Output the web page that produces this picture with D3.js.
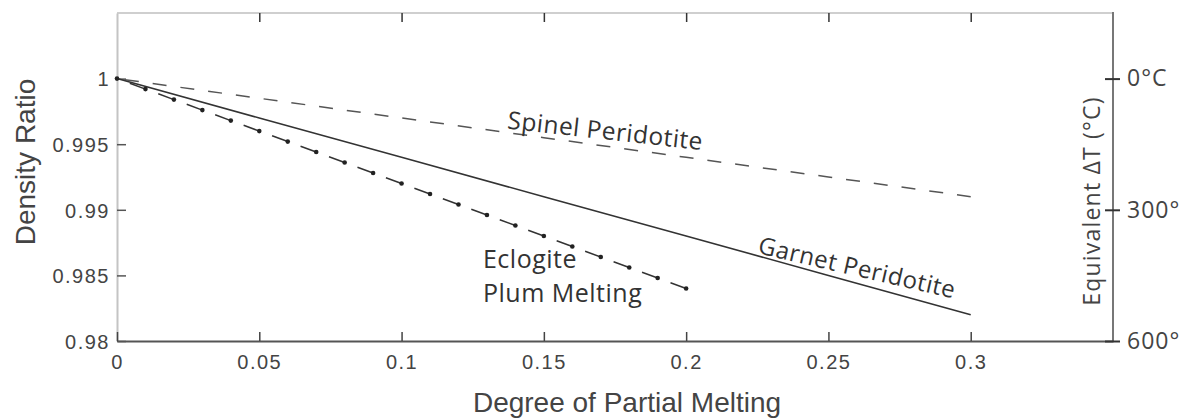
<!DOCTYPE html>
<html>
<head>
<meta charset="utf-8">
<script src="https://cdn.jsdelivr.net/npm/d3@7"></script>
<style>
  body { margin: 0; background: #fff; }
  svg { display: block; }
  .tick text { fill: #444; }
</style>
</head>
<body>
<script>
// data
var meltX = [0, 0.05, 0.1, 0.15, 0.2, 0.25, 0.3];
var garnet = [1, 0.997, 0.994, 0.991, 0.988, 0.985, 0.982];
var spinel = [1, 0.9985, 0.997, 0.9955, 0.994, 0.9925, 0.991];

var eclogiteX = [0, 0.01, 0.02, 0.03, 0.04, 0.05, 0.06, 0.07, 0.08, 0.09, 0.1,
                 0.11, 0.12, 0.13, 0.14, 0.15, 0.16, 0.17, 0.18, 0.19, 0.2];
var eclogite = [1, 0.9992, 0.9984, 0.9976, 0.9968, 0.996, 0.9952, 0.9944, 0.9936, 0.9928, 0.992,
                0.9912, 0.9904, 0.9896, 0.9888, 0.988, 0.9872, 0.9864, 0.9856, 0.9848, 0.984];

var xTicks = [0, 0.05, 0.1, 0.15, 0.2, 0.25, 0.3];
var yTicks = [0.98, 0.985, 0.99, 0.995, 1];
var tempTicks = [0, 300, 600];
var tempLabels = ["0°C", "300°", "600°"];

//Width and height
var width = 1186, height = 418;
var plot = {left: 117, right: 1113, top: 13, bottom: 341};

var svg = d3.select("body").append("svg")
    .attr("width", width)
    .attr("height", height);

var xScale = d3.scaleLinear().domain([0, 0.35]).range([plot.left, plot.right]);
var yScale = d3.scaleLinear().domain([0.98, 1.005]).range([plot.bottom, plot.top]);
var tScale = d3.scaleLinear().domain([0, 600]).range([yScale(1), yScale(0.98)]);

var tickFont = "'Liberation Sans', Arial, sans-serif";
var labelFont = "'Open Sans', 'Noto Sans', sans-serif";

// frame
svg.append("line").attr("x1", plot.left).attr("x2", plot.right).attr("y1", plot.top).attr("y2", plot.top)
    .attr("stroke", "#cfcfcf").attr("stroke-width", 2);
svg.append("line").attr("x1", plot.right).attr("x2", plot.right).attr("y1", plot.top - 1).attr("y2", plot.bottom)
    .attr("stroke", "#777").attr("stroke-width", 2);

// top ticks
var topAxis = d3.axisTop(xScale).tickValues(xTicks.slice(1)).tickSizeInner(-9).tickSizeOuter(0).tickFormat("");
svg.append("g").attr("transform", "translate(0," + plot.top + ")").call(topAxis)
    .call(function(g) { g.select(".domain").remove(); })
    .selectAll(".tick line").attr("stroke", "#333").attr("stroke-width", 1.5);

// left axis
var yAxis = d3.axisLeft(yScale).tickValues(yTicks).tickSizeInner(-9).tickSizeOuter(0).tickPadding(7)
    .tickFormat(d3.format(""));
var yg = svg.append("g").attr("transform", "translate(" + plot.left + ",0)").call(yAxis);
yg.select(".domain").attr("stroke", "#c4c4c4").attr("stroke-width", 2);
yg.selectAll(".tick line").attr("stroke", "#555").attr("stroke-width", 1.5);
yg.selectAll(".tick text").attr("font-family", tickFont).attr("font-size", 20)
    .attr("letter-spacing", 1.5).attr("dy", "0.36em");

// bottom axis
var xAxis = d3.axisBottom(xScale).tickValues(xTicks).tickSizeInner(-9).tickSizeOuter(0).tickPadding(14)
    .tickFormat(d3.format(""));
var xg = svg.append("g").attr("transform", "translate(0," + plot.bottom + ")").call(xAxis);
xg.select(".domain").attr("stroke", "#555").attr("stroke-width", 2);
xg.selectAll(".tick line").attr("stroke", "#444").attr("stroke-width", 1.5);
xg.selectAll(".tick text").attr("font-family", tickFont).attr("font-size", 20).attr("letter-spacing", 1.5);

// right axis, equivalent temperature
var tAxis = d3.axisRight(tScale).tickValues(tempTicks).tickSizeInner(7).tickSizeOuter(0).tickPadding(7)
    .tickFormat(function(d, i) { return tempLabels[i]; });
var tg = svg.append("g").attr("transform", "translate(" + plot.right + ",0)").call(tAxis);
tg.select(".domain").remove();
tg.selectAll(".tick line").attr("x1", -8).attr("stroke", "#333").attr("stroke-width", 2);
tg.selectAll(".tick text").attr("font-family", labelFont).attr("font-size", 23).attr("letter-spacing", 1)
    .attr("fill", "#444");

// lines
var line = d3.line()
    .x(function(d) { return xScale(d[0]); })
    .y(function(d) { return yScale(d[1]); });

svg.append("path")
    .datum(d3.zip(meltX, spinel))
    .attr("d", line)
    .attr("fill", "none")
    .attr("stroke", "#555")
    .attr("stroke-width", 1.5)
    .attr("stroke-dasharray", "14,14")
    .attr("stroke-dashoffset", -8);

svg.append("path")
    .datum(d3.zip(meltX, garnet))
    .attr("d", line)
    .attr("fill", "none")
    .attr("stroke", "#333")
    .attr("stroke-width", 1.6);

var ecl = d3.zip(eclogiteX, eclogite);
var seg = Math.hypot(xScale(0.01) - xScale(0), yScale(eclogite[0]) - yScale(eclogite[1]));
svg.append("path")
    .datum(ecl)
    .attr("d", line)
    .attr("fill", "none")
    .attr("stroke", "#333")
    .attr("stroke-width", 1.5)
    .attr("stroke-dasharray", (seg * 0.55) + "," + (seg * 0.45))
    .attr("stroke-dashoffset", -seg * 0.45);

svg.append("g").selectAll("circle")
    .data(ecl)
    .enter()
    .append("circle")
    .attr("cx", function(d) { return xScale(d[0]); })
    .attr("cy", function(d) { return yScale(d[1]); })
    .attr("r", 2.3)
    .attr("fill", "#222");

// curve labels
function curveLabel(txt, x, y, angle, size) {
    svg.append("text")
        .attr("transform", "translate(" + xScale(x) + "," + yScale(y) + ") rotate(" + angle + ")")
        .attr("font-family", labelFont)
        .attr("font-size", size)
        .attr("letter-spacing", 0.5)
        .attr("fill", "#333")
        .text(txt);
}
curveLabel("Spinel Peridotite", 0.137, 0.9962, 6.3, 24.5);
curveLabel("Garnet Peridotite", 0.2249, 0.9867, 13, 24);
curveLabel("Eclogite", 0.1286, 0.98556, 0, 25);
curveLabel("Plum Melting", 0.1286, 0.98297, 0, 25);

// axis titles
svg.append("text")
    .attr("transform", "translate(35,162) rotate(-90)")
    .attr("text-anchor", "middle")
    .attr("font-family", tickFont)
    .attr("font-size", 28)
    .attr("fill", "#444")
    .text("Density Ratio");

svg.append("text")
    .attr("x", 627)
    .attr("y", 412)
    .attr("text-anchor", "middle")
    .attr("font-family", tickFont)
    .attr("font-size", 28)
    .attr("fill", "#444")
    .text("Degree of Partial Melting");

svg.append("text")
    .attr("transform", "translate(1100,201) rotate(-90)")
    .attr("text-anchor", "middle")
    .attr("font-family", labelFont)
    .attr("font-size", 23)
    .attr("letter-spacing", 1.2)
    .attr("fill", "#444")
    .text("Equivalent ΔT (°C)");
</script>
</body>
</html>
